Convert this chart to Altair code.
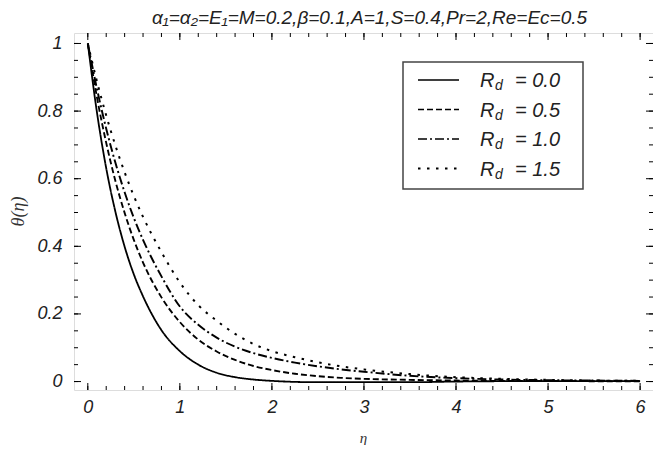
import altair as alt
import pandas as pd

# ---- data ----
eta = [0, 0.1, 0.2, 0.3, 0.4, 0.5, 0.6, 0.8, 1.0, 1.2, 1.4, 1.6, 1.8, 2.0,
       2.25, 2.5, 2.75, 3.0, 3.5, 4.0, 4.5, 5.0, 5.5, 6.0]
theta_rd00 = [1, 0.795, 0.631, 0.502, 0.399, 0.317, 0.252, 0.152, 0.090, 0.050,
              0.026, 0.013, 0.006, 0.002, -0.001, -0.002, -0.002, -0.002, -0.002,
              0.0, 0.001, 0.001, 0.001, 0.001]
theta_rd05 = [1, 0.840, 0.706, 0.593, 0.499, 0.419, 0.352, 0.249, 0.176, 0.124,
              0.089, 0.064, 0.046, 0.034, 0.023, 0.016, 0.011, 0.008, 0.005,
              0.003, 0.002, 0.002, 0.001, 0.001]
theta_rd10 = [1, 0.865, 0.748, 0.647, 0.560, 0.484, 0.419, 0.311, 0.222, 0.168,
              0.130, 0.103, 0.084, 0.070, 0.056, 0.045, 0.036, 0.029, 0.017,
              0.010, 0.006, 0.004, 0.003, 0.002]
theta_rd15 = [1, 0.887, 0.787, 0.698, 0.619, 0.549, 0.487, 0.383, 0.293, 0.226,
              0.180, 0.141, 0.111, 0.090, 0.072, 0.057, 0.045, 0.036, 0.022,
              0.013, 0.008, 0.005, 0.003, 0.002]
series_names = ["0.0", "0.5", "1.0", "1.5"]

x_major = [0, 1, 2, 3, 4, 5, 6]
x_minor = [round(i * 0.2, 2) for i in range(0, 31)]
y_major = [0, 0.2, 0.4, 0.6, 0.8, 1.0]
y_minor = [round(i * 0.05, 2) for i in range(0, 21)]

title_text = "α₁=α₂=E₁=M=0.2,β=0.1,A=1,S=0.4,Pr=2,Re=Ec=0.5"

# ---- layout / style ----
W, H = 579, 357
dashes = [[1, 0], [6, 3], [9, 3, 2, 3], [2.5, 6.5]]
widths = [1.8, 2.0, 1.9, 2.7]
FONT = "Liberation Sans"

rows = []
for name, vals in zip(series_names, [theta_rd00, theta_rd05, theta_rd10, theta_rd15]):
    for e, t in zip(eta, vals):
        rows.append({"eta": e, "theta": t, "Rd": name})
df = pd.DataFrame(rows)

xs = alt.Scale(domain=[-0.15, 6.14], nice=False, zero=False)
ys = alt.Scale(domain=[-0.025, 1.031], nice=False, zero=False)

lines = alt.Chart(df).mark_line(interpolate="monotone", color="black", clip=True).encode(
    x=alt.X("eta:Q", scale=xs,
            axis=alt.Axis(values=x_major, format="d", ticks=False, domain=False, grid=False,
                          labelFont=FONT, labelFontSize=18, labelFontStyle="italic",
                          labelColor="#222", labelPadding=8,
                          title="η", titleFont="Liberation Serif", titleFontSize=15,
                          titleFontStyle="italic", titleFontWeight="normal", titleColor="#333",
                          titleX=289, titleY=47, titleBaseline="middle")),
    y=alt.Y("theta:Q", scale=ys,
            axis=alt.Axis(values=y_major, format=".1~f", ticks=False, domain=False, grid=False,
                          labelFont=FONT, labelFontSize=18, labelFontStyle="italic",
                          labelColor="#222", labelPadding=12,
                          title="θ(η)", titleFont="Liberation Serif", titleFontSize=18,
                          titleFontStyle="italic", titleFontWeight="normal", titleColor="#333",
                          titleX=-56, titleY=178, titleAngle=-90, titleBaseline="middle",
                          titleAlign="center")),
    strokeDash=alt.StrokeDash("Rd:N", scale=alt.Scale(domain=series_names, range=dashes), legend=None),
    strokeWidth=alt.StrokeWidth("Rd:N", scale=alt.Scale(domain=series_names, range=widths), legend=None),
    detail="Rd:N",
)

# inward ticks on all four sides
xmaj = pd.DataFrame({"v": x_major})
xmin = pd.DataFrame({"v": x_minor})
ymaj = pd.DataFrame({"v": y_major})
ymin = pd.DataFrame({"v": y_minor})
tk = dict(color="black", strokeWidth=1)
ticks = [
    alt.Chart(xmaj).mark_rule(**tk).encode(x=alt.X("v:Q", scale=xs), y=alt.value(H), y2=alt.value(H - 7)),
    alt.Chart(xmaj).mark_rule(**tk).encode(x=alt.X("v:Q", scale=xs), y=alt.value(0), y2=alt.value(7)),
    alt.Chart(xmin).mark_rule(**tk).encode(x=alt.X("v:Q", scale=xs), y=alt.value(H), y2=alt.value(H - 4)),
    alt.Chart(xmin).mark_rule(**tk).encode(x=alt.X("v:Q", scale=xs), y=alt.value(0), y2=alt.value(4)),
    alt.Chart(ymaj).mark_rule(**tk).encode(y=alt.Y("v:Q", scale=ys), x=alt.value(0), x2=alt.value(7)),
    alt.Chart(ymaj).mark_rule(**tk).encode(y=alt.Y("v:Q", scale=ys), x=alt.value(W), x2=alt.value(W - 7)),
    alt.Chart(ymin).mark_rule(**tk).encode(y=alt.Y("v:Q", scale=ys), x=alt.value(0), x2=alt.value(4)),
    alt.Chart(ymin).mark_rule(**tk).encode(y=alt.Y("v:Q", scale=ys), x=alt.value(W), x2=alt.value(W - 4)),
]

# legend box
one = pd.DataFrame({"a": [0]})
LX0, LX1, LY0, LY1 = 329, 509, 29, 156
legend = [
    alt.Chart(one).mark_rect(fill="white", stroke="#444", strokeWidth=1.5).encode(
        x=alt.value(LX0), x2=alt.value(LX1), y=alt.value(LY0), y2=alt.value(LY1))
]
for i, name in enumerate(series_names):
    yc = 47 + 29.5 * i
    legend.append(alt.Chart(one).mark_rule(color="black", strokeDash=dashes[i],
                                           strokeWidth=widths[i] - 0.5).encode(
        x=alt.value(344), x2=alt.value(385), y=alt.value(yc)))
    tb = yc + 7
    legend.append(alt.Chart(one).mark_text(text="R", font=FONT, fontSize=20, fontStyle="italic",
                                           align="left", baseline="alphabetic", color="#222").encode(
        x=alt.value(406), y=alt.value(tb)))
    legend.append(alt.Chart(one).mark_text(text="d", font=FONT, fontSize=14, fontStyle="italic",
                                           align="left", baseline="alphabetic", color="#222").encode(
        x=alt.value(421), y=alt.value(tb + 3)))
    legend.append(alt.Chart(one).mark_text(text="= " + name, font=FONT, fontSize=20, fontStyle="italic",
                                           align="left", baseline="alphabetic", color="#222").encode(
        x=alt.value(441), y=alt.value(tb)))

chart = alt.layer(lines, *ticks, *legend).properties(
    width=W, height=H,
    title=alt.TitleParams(text=title_text, font=FONT, fontSize=19, fontStyle="italic",
                          fontWeight="normal", color="#222", anchor="middle", offset=5, dx=6),
    autosize=alt.AutoSizeParams(type="none"),
    padding={"left": 66, "top": 25, "right": 0, "bottom": 55},
).configure_view(stroke="black", strokeWidth=1.3).configure(background="white")

chart.save("out.html", embed_options={"renderer": "svg", "actions": False})
